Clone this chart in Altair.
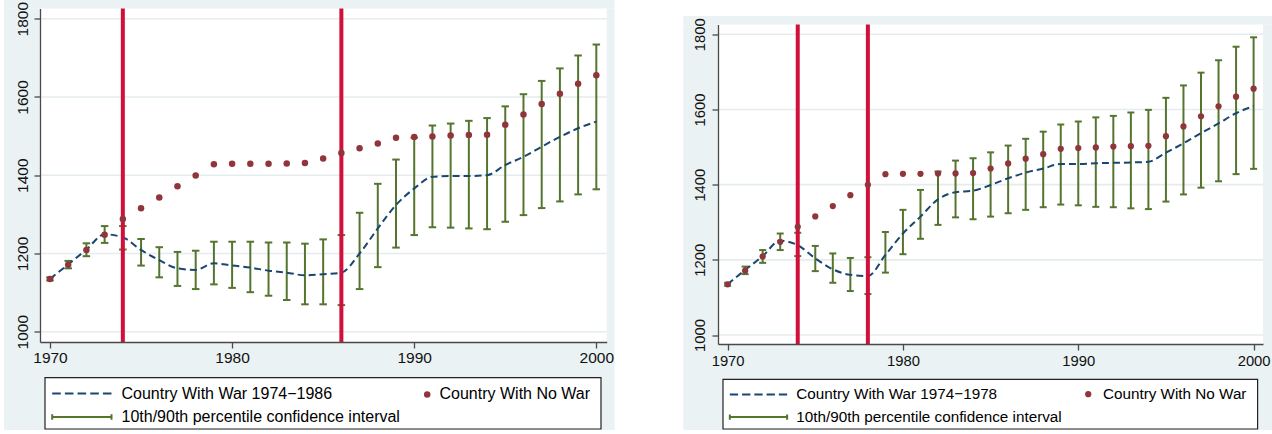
import altair as alt
import pandas as pd

# ---- data -------------------------------------------------------------
years = [1970, 1971, 1972, 1973, 1974, 1975, 1976, 1977, 1978, 1979,
         1980, 1981, 1982, 1983, 1984, 1985, 1986, 1987, 1988, 1989,
         1990, 1991, 1992, 1993, 1994, 1995, 1996, 1997, 1998, 1999, 2000]

no_war = [1135, 1171, 1209, 1248, 1288, 1315.5, 1343, 1372, 1399.5, 1428,
          1429, 1429, 1429.5, 1430, 1431, 1443, 1456.5, 1469, 1481, 1495.5,
          1497.5, 1499, 1501.5, 1502.5, 1503.5, 1529, 1555, 1582, 1608.5, 1634, 1655.5]

# war 1974-1986
war_long = [1135, 1172, 1210, 1249, 1241, 1209, 1183, 1162, 1158, 1175,
            1169, 1164, 1156, 1151, 1144, 1147, 1151, 1200, 1264, 1324,
            1366, 1396, 1398, 1398, 1400, 1426, 1447, 1473, 1498, 1520, 1537]
p10_long = [1131, 1162, 1193, 1227, 1210, 1169, 1139, 1117, 1109, 1121,
            1112, 1101, 1092, 1081, 1070, 1070, 1068, 1109, 1165, 1215,
            1247, 1267, 1266, 1264, 1262, 1281, 1298, 1316, 1333, 1351, 1364]
p90_long = [1139, 1181, 1226, 1270, 1270, 1237, 1216, 1204, 1207, 1230,
            1230, 1230, 1228, 1228, 1225, 1236, 1247, 1304, 1378, 1440,
            1496, 1527, 1532, 1539, 1546, 1576, 1607, 1641, 1673, 1706, 1734]

# war 1974-1978
war_short = [1135, 1173, 1210, 1251, 1239, 1204, 1175, 1160, 1157, 1213,
             1270, 1315, 1361, 1380, 1384, 1399, 1417, 1432, 1443, 1455,
             1455, 1457, 1458, 1459, 1461, 1485, 1510, 1537, 1563, 1590, 1609]
p10_short = [1131, 1162, 1192, 1226, 1210, 1170, 1139, 1117, 1109, 1166,
             1215, 1256, 1293, 1313, 1308, 1315, 1324, 1333, 1340, 1347,
             1345, 1341, 1340, 1337, 1335, 1355, 1374, 1392, 1409, 1428, 1442]
p90_short = [1139, 1182, 1226, 1270, 1272, 1237, 1217, 1205, 1207, 1274,
             1333, 1386, 1435, 1464, 1470, 1486, 1504, 1522, 1541, 1560,
             1568, 1579, 1583, 1592, 1599, 1631, 1664, 1698, 1731, 1767, 1792]

war_years_long = [1974, 1986]
war_years_short = [1974, 1978]

x_ticks = [1970, 1980, 1990, 2000]
y_ticks = [1000, 1200, 1400, 1600, 1800]

LABEL_WAR_LONG = "Country With War 1974\u22121986"
LABEL_WAR_SHORT = "Country With War 1974\u22121978"
LABEL_NO_WAR = "Country With No War"
LABEL_CI = "10th/90th percentile confidence interval"

# ---- styling ----------------------------------------------------------
FONT = "Liberation Sans"
NAVY = "#1a476f"
MAROON = "#90353b"
GREEN = "#55752f"
RED = "#D0103A"
PANEL = "#EAF2F3"
GRID = "#E4ECEE"

# legend glyphs in symbol units; they run from the entry's left edge
# to just before its label: a five-dash line and a capped interval
GLYPH_DASH = ("M-1,0H0.4313M1.1129,0H2.5442M3.2258,0H4.6571"
              "M5.3387,0H6.77M7.4516,0H8.8829")
GLYPH_CI = "M-1,0H8.8829M-1,-0.45V0.45M8.8829,-0.45V0.45"

# legend positions are relative to the group that holds each legend
LEFT = dict(w=566.7, h=333.5, xdom=[1969.451, 2000.57], ydom=[973.7, 1826.1],
            tick_font=15.5, xpad=2.6, ypad=6.7, cap=7.5, dot=42,
            legend_font=16,
            a_sym=144, a_off=55.3, a_x=10.2, a_y=377.1, a_row=7.4,
            b_sym=42, b_off=4.3, b_x=379.2, b_y=377.9,
            box=(5, 561, 369.2, 420.5), frame=(-36, 574.5, -8.5, 421.5))
RIGHT = dict(w=545, h=319.5, xdom=[1969.452, 2000.536], ydom=[976.1, 1826.1],
             tick_font=14.8, xpad=3.2, ypad=7.7, cap=7, dot=39,
             legend_font=15.25,
             a_sym=134.56, a_off=53.1, a_x=10.0, a_y=378.3, a_row=6.6,
             b_sym=38.5, b_off=7.1, b_x=362.6, b_y=378.0,
             box=(5, 539.6, 354.8, 404.5), frame=(-34.7, 556, -8.5, 405.5))


def patch(x0, x1, y0, y1, **style):
    """A rectangle placed in pixel space around the plot area."""
    return alt.Chart(alt.Data(values=[{}])).mark_rect(**style).encode(
        x=alt.value(x0), x2=alt.value(x1), y=alt.value(y0), y2=alt.value(y1)
    )


def panel(war, p10, p90, war_label, war_years, L):
    frame = pd.DataFrame({"year": years, "war": war, "p10": p10,
                          "p90": p90, "no_war": no_war})
    base = alt.Chart(frame)

    xs = alt.Scale(domain=L["xdom"], nice=False, zero=False)
    ys = alt.Scale(domain=L["ydom"], nice=False, zero=False)
    x_axis = alt.Axis(values=x_ticks, format="d", grid=False, zindex=1,
                      labelFontSize=L["tick_font"], labelBaseline="top",
                      labelPadding=L["xpad"], labelFlush=False, labelOverlap=False)
    y_axis = alt.Axis(values=y_ticks, format="d", grid=False, zindex=1, labelAngle=270,
                      labelAlign="center", labelBaseline="alphabetic",
                      labelPadding=L["ypad"], labelFontSize=L["tick_font"],
                      labelFlush=False, labelOverlap=False)

    # panel background frame around the white plot area
    fx0, fx1, fy0, fy1 = L["frame"]
    w, h = L["w"], L["h"]
    bx0, bx1, by0, by1 = L["box"]
    layers = [
        patch(fx0, fx1, fy0, 0, fill=PANEL),
        patch(fx0, fx1, h, fy1, fill=PANEL),
        patch(fx0, 0, 0, h, fill=PANEL),
        patch(w, fx1, 0, h, fill=PANEL),
        patch(bx0, bx1, by0, by1, fill="white", stroke="#222", strokeWidth=1.2),
    ]

    # horizontal reference lines at the labelled y values
    grid = alt.Chart(pd.DataFrame({"level": y_ticks})).mark_rule(
        color=GRID, strokeWidth=1.6).encode(
        y=alt.Y("level:Q", scale=ys, axis=y_axis, title=None))

    whisker = base.mark_rule(color=GREEN, strokeWidth=2).encode(
        x=alt.X("year:Q", scale=xs, axis=x_axis, title=None),
        y=alt.Y("p10:Q", title=None),
        y2="p90:Q",
    )
    cap_lo = base.mark_tick(orient="horizontal", color=GREEN, size=L["cap"],
                            thickness=2, opacity=1).encode(x="year:Q", y="p10:Q")
    cap_hi = base.mark_tick(orient="horizontal", color=GREEN, size=L["cap"],
                            thickness=2, opacity=1).encode(x="year:Q", y="p90:Q")
    war_line = base.mark_line(color=NAVY, strokeWidth=2, strokeDash=[7, 4],
                              interpolate="monotone").encode(x="year:Q", y="war:Q")
    onset = alt.Chart(pd.DataFrame({"year": war_years})).mark_rule(
        color=RED, strokeWidth=4).encode(x="year:Q")
    dots = base.mark_circle(color=MAROON, size=L["dot"], opacity=1).encode(
        x="year:Q", y="no_war:Q")

    text_style = dict(title=None, orient="none", padding=0, labelFont=FONT,
                      labelFontSize=L["legend_font"], labelColor="#000",
                      labelLimit=800, symbolOpacity=1)

    # left legend column: dashed war path and the interval whisker
    pair = [war_label, LABEL_CI]
    key_a = alt.Legend(legendX=L["a_x"], legendY=L["a_y"], direction="vertical",
                       rowPadding=L["a_row"], labelOffset=L["a_off"],
                       symbolSize=L["a_sym"], symbolStrokeWidth=2,
                       symbolFillColor="transparent", **text_style)
    carrier_a = alt.Chart(pd.DataFrame({"series": pair})).transform_filter(
        "false").mark_point(filled=False, strokeWidth=2).encode(
        stroke=alt.Stroke("series:N", scale=alt.Scale(domain=pair, range=[NAVY, GREEN]),
                          legend=key_a),
        shape=alt.Shape("series:N", scale=alt.Scale(domain=pair, range=[GLYPH_DASH, GLYPH_CI]),
                        legend=key_a),
    )

    # right legend column: the no-war dots
    single = [LABEL_NO_WAR]
    key_b = alt.Legend(legendX=L["b_x"], legendY=L["b_y"], labelOffset=L["b_off"],
                       symbolType="circle", symbolSize=L["b_sym"], symbolStrokeWidth=0,
                       symbolStrokeColor=MAROON, **text_style)
    carrier_b = alt.Chart(pd.DataFrame({"series": single})).transform_filter(
        "false").mark_point(filled=True).encode(
        fill=alt.Fill("series:N", scale=alt.Scale(domain=single, range=[MAROON]),
                      legend=key_b),
    )

    layers += [grid, whisker, cap_lo, cap_hi, war_line, onset, dots, carrier_a, carrier_b]
    return alt.layer(*layers).properties(width=w, height=h)


left = panel(war_long, p10_long, p90_long, LABEL_WAR_LONG, war_years_long, LEFT)
right = panel(war_short, p10_short, p90_short, LABEL_WAR_SHORT, war_years_short, RIGHT)

# a one-pixel blank strip that lowers the right panel below the left one
lead = patch(0, 1, 0, 1, fill="white").properties(width=1, height=1)

chart = (
    alt.hconcat(left, alt.vconcat(lead, right, spacing=6), spacing=68)
    .resolve_scale(fill="independent", stroke="independent", shape="independent")
    .resolve_legend(fill="independent", stroke="independent", shape="independent")
    .properties(autosize=alt.AutoSizeParams(type="none"),
                padding={"left": 40, "top": 8.5, "right": 1232, "bottom": 425.5},
                background="white")
    .configure_view(stroke=None, fill="white")
    .configure_axis(domainColor="#4a4a4a", domainWidth=1.3, tickColor="#4a4a4a",
                    tickWidth=1.3, tickSize=6, labelFont=FONT, labelColor="#111")
)

chart.save("out.html", embed_options={"renderer": "svg", "actions": False})
